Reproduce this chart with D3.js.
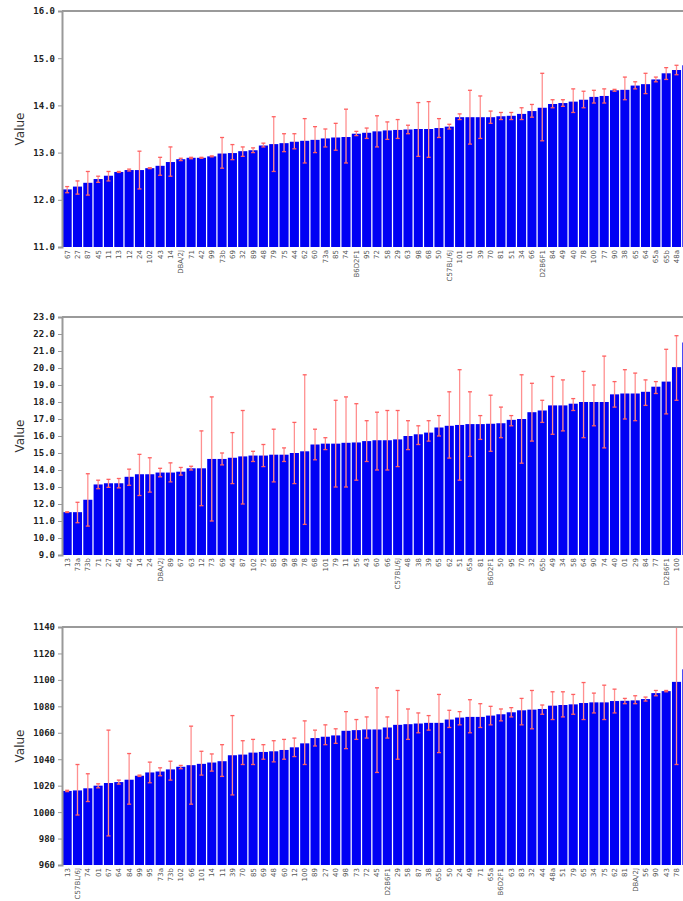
<!DOCTYPE html>
<html>
<head>
<meta charset="utf-8">
<title>Strain means</title>
<style>
  body { margin: 0; padding: 0; background: #fff; overflow: hidden; }
  .yaxis text { font-family: 'DejaVu Sans Mono', monospace; font-weight: bold; font-size: 9px; fill: #222; }
  .yaxis line, .yaxis path { stroke: #999; }
  .xlab { font-family: 'DejaVu Sans', sans-serif; font-size: 7px; fill: #555; }
  .ytitle { font-family: 'DejaVu Sans', sans-serif; font-size: 12px; fill: #333; }
  .bar { fill: #0000f4; }
  .err { stroke: #ff9090; stroke-width: 1.3; }
  .cap { stroke: #ff6060; stroke-width: 1.3; }
</style>
</head>
<body>
<div id="vis"></div>
<script src="https://cdnjs.cloudflare.com/ajax/libs/d3/7.8.5/d3.min.js"></script>
<script>
// panel 1
var labels1 = ["67","27","87","45","11","13","12","24","102","43","14","DBA/2J","71","42","99","73b","69","32","89","48",
  "79","75","44","62","60","73a","85","74","B6D2F1","95","72","58","29","63","98","68","50","C57BL/6J","101","01",
  "39","70","81","51","34","66","D2B6F1","84","49","40","78","100","77","90","38","65","64","65a","65b","48a","56"];
var means1 = [12.22,12.28,12.36,12.44,12.51,12.59,12.63,12.63,12.67,12.72,12.80,12.86,12.89,12.89,12.92,12.98,12.99,13.03,13.05,13.15,
  13.18,13.20,13.23,13.25,13.27,13.30,13.32,13.33,13.40,13.42,13.45,13.47,13.48,13.49,13.50,13.50,13.52,13.55,13.75,13.75,
  13.75,13.75,13.77,13.78,13.82,13.88,13.95,14.03,14.05,14.08,14.12,14.18,14.20,14.32,14.33,14.42,14.45,14.55,14.68,14.75,14.85];
var lo1 = [12.15,12.12,12.10,12.37,12.40,12.58,12.61,12.23,12.66,12.52,12.50,12.83,12.87,12.88,12.91,12.67,12.85,12.92,13.00,13.12,
  12.60,13.02,13.08,12.78,13.00,13.12,13.05,12.78,13.36,13.30,13.12,13.28,13.30,13.40,12.92,12.90,13.32,13.50,13.70,13.18,
  13.30,13.62,13.70,13.70,13.70,13.75,13.25,13.95,13.98,13.85,13.95,14.05,14.05,14.30,14.12,14.35,14.25,14.50,14.55,14.65,14.70];
var hi1 = [12.28,12.40,12.60,12.50,12.60,12.60,12.65,13.03,12.68,12.90,13.12,12.88,12.90,12.90,12.93,13.32,13.17,13.12,13.10,13.20,
  13.76,13.40,13.40,13.72,13.55,13.50,13.62,13.92,13.45,13.52,13.78,13.65,13.70,13.58,14.06,14.08,13.72,13.60,13.82,14.32,
  14.20,13.88,13.85,13.85,13.95,14.02,14.68,14.12,14.12,14.35,14.30,14.32,14.35,14.34,14.60,14.50,14.68,14.60,14.80,14.85,15.00];

// panel 2
var labels2 = ["13","73a","73b","71","27","45","42","14","24","DBA/2J","89","67","63","12","73","69","44","87","102","75",
  "85","99","98","78","68","101","79","11","56","43","60","66","C57BL/6J","48","38","39","65","62","51","65a",
  "81","B6D2F1","50","95","70","32","65b","49","34","58","64","90","74","40","01","29","84","77","D2B6F1","100","48a"];
var means2 = [11.52,11.52,12.25,13.15,13.22,13.22,13.60,13.75,13.75,13.85,13.85,13.90,14.10,14.10,14.65,14.65,14.72,14.80,14.85,14.85,
  14.90,14.90,15.00,15.10,15.50,15.55,15.55,15.60,15.62,15.70,15.75,15.75,15.80,16.00,16.10,16.20,16.50,16.60,16.65,16.70,
  16.70,16.72,16.75,16.95,17.00,17.40,17.50,17.80,17.80,17.90,18.00,18.00,18.00,18.45,18.50,18.50,18.60,18.90,19.20,20.05,21.50];
var lo2 = [11.50,10.90,10.70,12.90,12.98,12.95,13.10,12.50,12.70,13.60,13.30,13.70,14.00,11.90,11.00,14.30,13.20,12.00,14.50,14.20,
  13.30,14.50,13.20,10.80,14.60,15.20,13.00,13.00,13.40,14.50,14.00,14.00,14.20,15.20,15.50,15.70,16.00,14.70,13.40,14.80,
  15.80,15.10,15.90,16.60,14.40,15.70,16.80,16.10,16.30,17.50,15.90,16.60,15.30,17.70,17.00,16.90,17.80,18.50,17.30,18.10,20.00];
var hi2 = [11.54,12.10,13.78,13.40,13.45,13.50,14.05,14.92,14.72,14.10,14.42,14.15,14.22,16.30,18.30,15.00,16.20,17.50,15.10,15.50,
  16.40,15.30,16.80,19.60,16.40,15.90,18.10,18.30,17.90,16.90,17.40,17.50,17.50,16.90,16.60,16.90,17.20,18.60,19.90,18.60,
  17.20,18.40,17.70,17.20,19.60,19.10,18.10,19.50,19.30,18.20,19.80,19.00,20.70,19.20,19.90,19.70,19.30,19.20,21.10,21.90,23.00];

// panel 3
var labels3 = ["13","C57BL/6J","74","01","67","64","84","99","95","73a","73b","102","66","101","14","11","39","70","85","69",
  "48","60","12","100","89","27","40","98","73","72","45","D2B6F1","29","58","87","38","65b","50","24","49",
  "71","65a","B6D2F1","63","83","32","44","48a","51","79","65","34","75","62","81","DBA/2J","56","90","43","78","42"];
var means3 = [1016,1016.4,1018,1020,1022,1022.7,1024.5,1027.5,1030,1030.7,1032.3,1034.3,1035.5,1036.5,1037.5,1038.5,1043,1043.5,1045,1045.5,
  1046,1047,1049,1052,1056,1057,1058,1061.5,1062,1062.5,1062.5,1064,1066,1066.5,1067,1067.5,1067.5,1070,1071.5,1072,
  1072,1073,1074,1075.5,1077,1077.5,1078,1080.5,1081,1081.5,1082.5,1083,1083,1084,1084.2,1084.5,1085.5,1090,1091.5,1098.5,1108];
var lo3 = [1015.5,997.8,1008,1018.4,982,1021.2,1006,1027,1022.2,1027.5,1024.2,1032.8,1006,1028,1031,1027,1013,1036,1036,1040,
  1038,1040,1042,1036,1050,1051,1052,1048,1055,1056,1030,1056,1040,1055,1060,1062,1045,1064,1066,1060,
  1064,1066,1069,1072,1066,1063,1074,1070,1072,1074,1070,1075,1070,1075,1082,1082,1084,1088,1091,1036,1100];
var hi3 = [1016.5,1036,1029,1021.4,1062,1024.2,1044.3,1028,1037.8,1033.5,1038.5,1035.3,1065,1046,1044,1051,1073,1054,1055,1051,
  1054,1055,1056,1069,1062,1066,1063,1076,1070,1072,1094,1072,1092,1078,1075,1073,1089,1077,1076,1085,
  1082,1080,1078,1079,1086,1092,1081,1091,1091,1089,1098,1090,1096,1093,1086,1088,1087,1092,1092,1145,1115];

var panels = [
  { labels: labels1, means: means1, lo: lo1, hi: hi1, top: 11, bottom: 247, domain: [11, 16], step: 1, fmt: ".1f" },
  { labels: labels2, means: means2, lo: lo2, hi: hi2, top: 317, bottom: 555, domain: [9, 23], step: 1, fmt: ".1f" },
  { labels: labels3, means: means3, lo: lo3, hi: hi3, top: 627, bottom: 865, domain: [960, 1140], step: 20, fmt: "d" }
];

// the chart runs on past the right edge of the window, as in the original
var left = 62, right = 692, width = 700, height = 901, viewW = 683;

var svg = d3.select("#vis").append("svg")
  .attr("width", width)
  .attr("height", height);

panels.forEach(function(p, k) {
  var n = p.labels.length;
  var x = d3.scaleBand().domain(d3.range(n)).range([left, right]).paddingInner(0.12).paddingOuter(0.06);
  var y = d3.scaleLinear().domain(p.domain).range([p.bottom, p.top]);
  var ticks = d3.range(p.domain[0], p.domain[1] + p.step / 2, p.step);
  var cx = function(i) { return x(i) + x.bandwidth() / 2; };

  var g = svg.append("g").attr("class", "panel");

  svg.append("clipPath").attr("id", "clip" + k)
    .append("rect")
      .attr("x", left).attr("y", p.top)
      .attr("width", width - left).attr("height", p.bottom - p.top + 2);

  var plot = g.append("g").attr("clip-path", "url(#clip" + k + ")");

  plot.selectAll("rect.bar")
    .data(p.means)
    .enter().append("rect")
      .attr("class", "bar")
      .attr("x", function(d, i) { return x(i); })
      .attr("width", x.bandwidth())
      .attr("y", function(d) { return y(d); })
      .attr("height", function(d) { return p.bottom - y(d); });

  plot.selectAll("line.err")
    .data(p.means)
    .enter().append("line")
      .attr("class", "err")
      .attr("x1", function(d, i) { return cx(i); })
      .attr("x2", function(d, i) { return cx(i); })
      .attr("y1", function(d, i) { return y(p.lo[i]); })
      .attr("y2", function(d, i) { return y(p.hi[i]); });

  [p.lo, p.hi].forEach(function(arr) {
    plot.selectAll(null)
      .data(arr)
      .enter().append("line")
        .attr("class", "cap")
        .attr("x1", function(d, i) { return cx(i) - 2; })
        .attr("x2", function(d, i) { return cx(i) + 2; })
        .attr("y1", function(d) { return y(d); })
        .attr("y2", function(d) { return y(d); });
  });

  // frame: top rule and left axis
  g.append("line")
    .attr("x1", left).attr("x2", width)
    .attr("y1", p.top).attr("y2", p.top)
    .attr("stroke", "#9a9a9a").attr("stroke-width", 2);

  var yAxis = d3.axisLeft(y).tickValues(ticks).tickSize(4).tickPadding(3).tickFormat(d3.format(p.fmt));
  g.append("g")
    .attr("class", "yaxis")
    .attr("transform", "translate(" + left + ",0)")
    .call(yAxis)
    .call(function(a) { a.select(".domain").attr("stroke-width", 2); });

  g.append("text")
    .attr("class", "ytitle")
    .attr("text-anchor", "middle")
    .attr("transform", "translate(24," + ((p.top + p.bottom) / 2) + ") rotate(-90)")
    .text("Value");

  // only the labels whose bar sits inside the window are visible
  var shown = p.labels.map(function(d, i) { return i; }).filter(function(i) { return cx(i) + 4 < viewW; });
  g.selectAll("text.xlab")
    .data(shown)
    .enter().append("text")
      .attr("class", "xlab")
      .attr("text-anchor", "end")
      .attr("dy", "0.35em")
      .attr("transform", function(i) { return "translate(" + cx(i) + "," + (p.bottom + 3) + ") rotate(-90)"; })
      .text(function(i) { return p.labels[i]; });
});
</script>
</body>
</html>
